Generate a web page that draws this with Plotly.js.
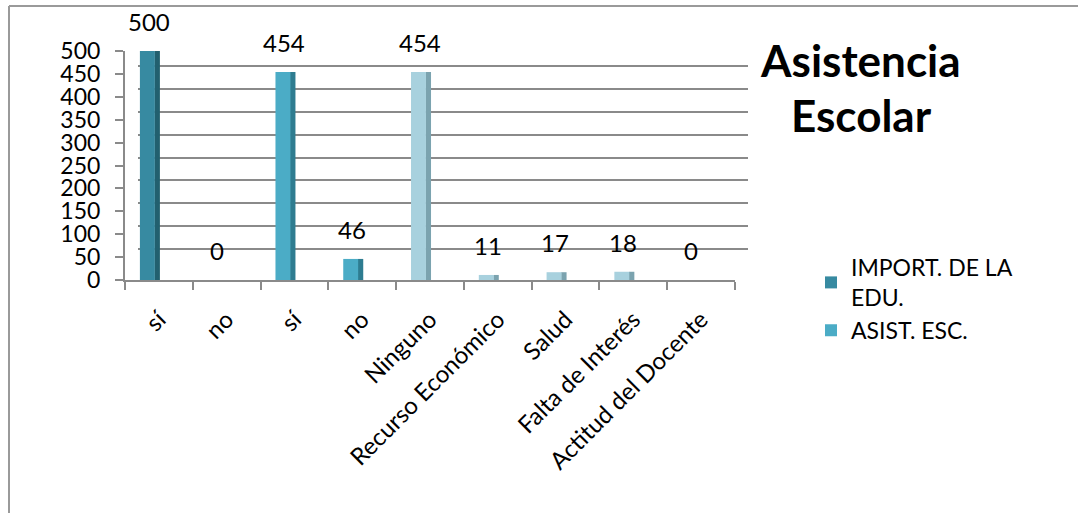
<!DOCTYPE html>
<html>
<head>
<meta charset="utf-8">
<script src="https://cdn.plot.ly/plotly-3.0.1.min.js"></script>
<style>html,body{margin:0;padding:0;background:#fff;}#chart{width:1078px;height:513px;}</style>
</head>
<body>
<div id="chart"></div>
<script>
// ---- data ----
const categories = ['sí', 'no', 'sí', 'no', 'Ninguno', 'Recurso Económico', 'Salud', 'Falta de Interés', 'Actitud del Docente'];
const importEduX = [0, 1];
const importEdu = [500, 0];
const asistEscX = [2, 3];
const asistEsc = [454, 46];
const motivosX = [4, 5, 6, 7, 8];
const motivos = [454, 11, 17, 18, 0];
const seriesNames = ['IMPORT. DE LA<br>EDU.', 'ASIST. ESC.'];
const titleLines = ['Asistencia', 'Escolar'];
const yTicks = [0, 50, 100, 150, 200, 250, 300, 350, 400, 450, 500];

// ---- helpers ----
const W = 1078, H = 513;
const px = v => v / W;
const py = v => 1 - v / H;
const FONT = 'Lato, "Open Sans", sans-serif';

const frontColors = ['#378AA1', '#4BACC6', '#A8D1DE'];
const sideColors = ['#22606F', '#2E7C90', '#7BA3AF'];

function faceTrace(x, y, color, name, legend) {
  return {type: 'bar', x: x, y: y, xaxis: 'x2', yaxis: 'y2', name: name,
    marker: {color: color, line: {width: 0}}, width: 0.22, offset: -0.28,
    showlegend: legend, hoverinfo: 'skip'};
}
function sideTrace(x, y, color) {
  return {type: 'bar', x: x, y: y, xaxis: 'x2', yaxis: 'y2',
    marker: {color: color, line: {width: 0}}, width: 0.08, offset: -0.065,
    showlegend: false, hoverinfo: 'skip'};
}

const data = [
  {type: 'scatter', x: [], y: [], xaxis: 'x', yaxis: 'y', showlegend: false, hoverinfo: 'skip'},
  sideTrace(importEduX, importEdu, sideColors[0]),
  sideTrace(asistEscX, asistEsc, sideColors[1]),
  sideTrace(motivosX, motivos, sideColors[2]),
  faceTrace(importEduX, importEdu, frontColors[0], seriesNames[0], true),
  faceTrace(asistEscX, asistEsc, frontColors[1], seriesNames[1], true),
  faceTrace(motivosX, motivos, frontColors[2], 'Motivos', false)
];

const allX = importEduX.concat(asistEscX, motivosX);
const allY = importEdu.concat(asistEsc, motivos);
const annotations = allX.map((xv, i) => ({
  x: xv - 0.15, y: allY[i], xref: 'x2', yref: 'y2', text: String(allY[i]),
  showarrow: false, yanchor: 'bottom', yshift: 13,
  font: {family: FONT, size: 24, color: '#000'}
}));
annotations.push(
  {x: px(860), y: py(60), xref: 'paper', yref: 'paper', text: '<b>' + titleLines[0] + '</b>',
    showarrow: false, xanchor: 'center', yanchor: 'middle', font: {family: FONT, size: 44, color: '#000'}},
  {x: px(861), y: py(115), xref: 'paper', yref: 'paper', text: '<b>' + titleLines[1] + '</b>',
    showarrow: false, xanchor: 'center', yanchor: 'middle', font: {family: FONT, size: 44, color: '#000'}}
);

const gridGray = '#8A8A8A';
const layout = {
  width: W, height: H,
  margin: {l: 0, r: 0, t: 0, b: 0},
  paper_bgcolor: '#fff', plot_bgcolor: 'rgba(0,0,0,0)',
  barmode: 'overlay',
  showlegend: true,
  // back wall (gridlines)
  xaxis: {domain: [px(138), px(748)], range: [-0.5, 8.5], showgrid: false, zeroline: false,
    showticklabels: false, ticks: '', showline: false, anchor: 'y', fixedrange: true},
  yaxis: {domain: [py(272), py(43)], range: [0, 500], tickvals: yTicks, showgrid: true,
    gridcolor: gridGray, gridwidth: 2, zeroline: false, showticklabels: false, ticks: '',
    showline: false, anchor: 'x', fixedrange: true},
  // front (bars, axes, labels)
  xaxis2: {domain: [px(125), px(735)], range: [-0.5, 8.5], tickmode: 'array',
    tickvals: allX.slice().sort((a, b) => a - b), ticktext: categories, tickangle: -45,
    ticks: '', ticklabelstandoff: 14, showgrid: false, zeroline: false, showline: true,
    linecolor: gridGray, linewidth: 2,
    tickfont: {family: FONT, size: 24, color: '#000'},
    minor: {tick0: -0.5, dtick: 1, ticks: 'outside', ticklen: 8, tickcolor: gridGray, tickwidth: 2},
    anchor: 'y2', fixedrange: true},
  yaxis2: {domain: [py(280), py(51)], range: [0, 500], tickvals: yTicks, showgrid: false,
    zeroline: false, showline: true, linecolor: gridGray, linewidth: 2,
    ticks: 'outside', ticklen: 8, tickcolor: gridGray, tickwidth: 2, ticklabelstandoff: 10,
    tickfont: {family: FONT, size: 23, color: '#000'}, anchor: 'x2', fixedrange: true},
  legend: {x: px(811), y: py(246), xanchor: 'left', yanchor: 'top', bgcolor: 'rgba(0,0,0,0)',
    font: {family: FONT, size: 23, color: '#000'}, itemwidth: 30, tracegroupgap: 0},
  annotations: annotations,
  shapes: [
    {type: 'line', xref: 'paper', yref: 'paper', x0: px(9), x1: px(9), y0: py(6), y1: 0,
      line: {color: '#9A9A9A', width: 2}},
    {type: 'line', xref: 'paper', yref: 'paper', x0: px(9), x1: 1, y0: py(6), y1: py(6),
      line: {color: '#9A9A9A', width: 2}}
  ]
};

Plotly.newPlot('chart', data, layout, {staticPlot: true});
</script>
</body>
</html>
